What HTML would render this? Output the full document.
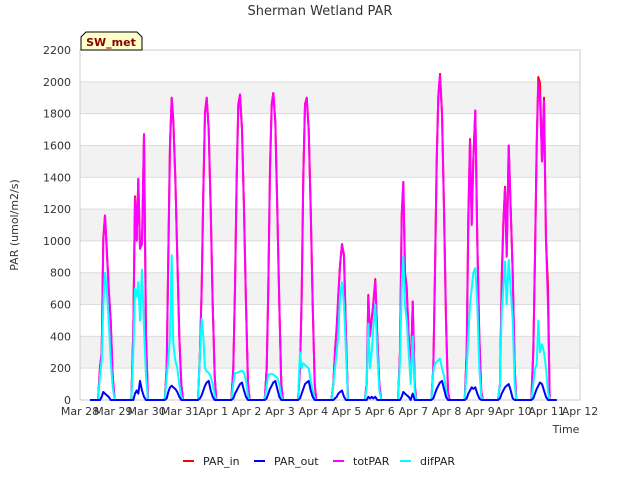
<!DOCTYPE html>
<html><head><meta charset="utf-8"><style>
body{margin:0;background:#fff;}
svg text{font-family:"DejaVu Sans","Liberation Sans",sans-serif;}
</style></head><body>
<svg id="chart" width="640" height="480" xmlns="http://www.w3.org/2000/svg">
<rect width="640" height="480" fill="#fff"/>
<text x="320" y="15" text-anchor="middle" font-size="13" fill="#333">Sherman Wetland PAR</text>
<g id="bands"></g>
<g id="grid"></g>
<rect x="80" y="50" width="500" height="350" fill="none" stroke="#ccc"/>
<g id="yticks"></g>
<g id="xticks"></g>
<text transform="translate(18,225) rotate(-90)" text-anchor="middle" font-size="11" fill="#333">PAR (umol/m2/s)</text>
<text x="566" y="433" text-anchor="middle" font-size="11" fill="#333">Time</text>
<g id="series"></g>
<g>
<path d="M81,50 L81,37 L86,32 L137,32 L142,37 L142,50 Z" fill="#ffffcc" stroke="#000" stroke-width="1"/>
<text x="111" y="46" text-anchor="middle" font-size="11" font-weight="bold" fill="#8b0000">SW_met</text>
</g>
<g id="legend"></g>
</svg>
<script>
const NS="http://www.w3.org/2000/svg";
const yTicks=[0,200,400,600,800,1000,1200,1400,1600,1800,2000,2200];
const xTickLabels=["Mar 28","Mar 29","Mar 30","Mar 31","Apr 1","Apr 2","Apr 3","Apr 4","Apr 5","Apr 6","Apr 7","Apr 8","Apr 9","Apr 10","Apr 11","Apr 12"];
const offsets=[-0.46,-0.40,-0.35,-0.30,-0.25,-0.20,-0.14,-0.08,-0.02,0.04,0.09,0.13];
const dayIndex=[1,2,3,4,5,6,7,8,9,10,11,12,13,14];
const totPAR=[
[0,200,300,1000,1160,950,700,500,150,0,0,0],
[0,430,1270,1000,1390,950,980,1670,400,0,0,0],
[0,200,900,1600,1900,1750,1400,900,400,100,0,0],
[0,300,700,1300,1800,1900,1700,1200,600,150,0,0],
[0,200,700,1400,1850,1920,1700,1200,600,100,0,0],
[0,200,700,1450,1850,1930,1750,1200,600,100,0,0],
[0,200,650,1400,1850,1900,1700,1200,600,100,0,0],
[0,100,300,450,650,840,980,900,400,0,0,0],
[0,100,650,400,500,600,750,400,100,0,0,0],
[0,300,1160,1370,800,700,400,150,620,100,0,0],
[0,200,800,1500,1900,2040,1800,1200,500,50,0,0],
[0,300,1130,1630,1100,1500,1820,1000,400,50,0,0],
[0,100,700,1100,1330,900,1600,1200,800,200,0,0],
[0,300,900,1600,2000,1900,1500,1880,1000,600,0,0]];
const parIn=[
[0,210,300,1020,1160,960,700,500,150,0,0,0],
[0,440,1280,1010,1390,960,980,1670,400,0,0,0],
[0,210,910,1620,1900,1760,1400,900,400,100,0,0],
[0,310,710,1310,1810,1900,1700,1200,600,150,0,0],
[0,200,710,1410,1860,1920,1700,1200,600,100,0,0],
[0,200,710,1460,1860,1930,1750,1200,600,100,0,0],
[0,200,660,1410,1860,1900,1700,1200,600,100,0,0],
[0,100,310,460,660,850,980,910,400,0,0,0],
[0,100,660,410,510,610,760,400,100,0,0,0],
[0,310,1160,1370,800,710,400,150,620,100,0,0],
[0,200,810,1510,1910,2050,1800,1200,500,50,0,0],
[0,310,1140,1640,1110,1510,1820,1000,400,50,0,0],
[0,100,780,1110,1340,910,1600,1200,800,200,0,0],
[0,310,910,1610,2030,1990,1500,1900,1000,720,0,0]];
const difPAR=[
[0,150,250,600,800,700,500,250,80,0,0,0],
[0,300,700,650,740,500,820,450,150,0,0,0],
[0,150,250,400,910,350,250,200,100,20,0,0],
[0,300,510,400,200,180,170,150,100,30,0,0],
[0,100,170,170,175,180,185,170,120,20,0,0],
[0,90,160,160,165,160,150,140,100,20,0,0],
[0,300,200,230,220,210,200,120,60,10,0,0],
[0,100,200,300,400,650,740,600,300,0,0,0],
[0,80,480,200,300,450,600,300,60,0,0,0],
[0,250,700,900,600,500,300,100,400,50,0,0],
[0,180,230,240,250,260,200,150,60,0,0,0],
[0,200,400,600,700,800,830,600,200,20,0,0],
[0,100,550,700,870,600,880,700,500,100,0,0],
[0,100,200,220,500,300,350,300,200,50,0,0]];
const parOut=[
[0,0,20,50,40,30,20,0,0,0,0,0],
[0,0,40,60,40,120,60,20,0,0,0,0],
[0,10,50,80,90,80,70,50,20,0,0,0],
[0,10,30,60,90,110,120,60,20,0,0,0],
[0,10,40,60,80,100,110,60,20,0,0,0],
[0,10,40,70,90,110,120,70,20,0,0,0],
[0,10,40,70,100,110,120,60,20,0,0,0],
[0,0,10,20,40,50,60,20,0,0,0,0],
[0,0,20,10,20,10,20,0,0,0,0,0],
[0,0,20,50,40,30,20,0,40,0,0,0],
[0,10,40,70,90,110,120,70,20,0,0,0],
[0,10,40,60,80,70,80,40,10,0,0,0],
[0,10,40,60,80,90,100,60,10,0,0,0],
[0,10,40,70,90,110,100,60,20,0,0,0]];
const startDay=0.3, endDay=14.3;

const X=d=>80+d*(500/15);
const Y=v=>400-v*(350/2200);
function el(tag,attrs,parent){const e=document.createElementNS(NS,tag);for(const k in attrs)e.setAttribute(k,attrs[k]);parent.appendChild(e);return e;}
const bands=document.getElementById('bands'),grid=document.getElementById('grid'),yt=document.getElementById('yticks'),xt=document.getElementById('xticks');
for(let i=0;i<yTicks.length;i++){
  const v=yTicks[i];
  if(i%2===1&&i<yTicks.length-1){const b=el('rect',{x:80,y:Y(yTicks[i+1]),width:500,height:Y(v)-Y(yTicks[i+1]),fill:'#f2f2f2'},bands);
  
  }
  const g=el('line',{x1:80,x2:580,y1:Y(v),y2:Y(v),stroke:'#dcdcdc'},grid);
  
  
  const t=el('text',{x:71,y:Y(v)+4,'text-anchor':'end','font-size':11,fill:'#333'},yt);t.textContent=v;
  
  
}
for(let i=0;i<xTickLabels.length;i++){
  const t=el('text',{x:X(i),y:415,'text-anchor':'middle','font-size':11,fill:'#333'},xt);t.textContent=xTickLabels[i];
  
  
}
function pts(arr){
  const p=[[X(startDay),Y(0)]];
  for(let d=0;d<dayIndex.length;d++)for(let k=0;k<offsets.length;k++)p.push([X(dayIndex[d]+offsets[k]),Y(arr[d][k])]);
  p.push([X(endDay),Y(0)]);
  return p.map(q=>q[0].toFixed(1)+','+q[1].toFixed(1)).join(' ');
}
const ser=document.getElementById('series');
const defs=[['PAR_in',parIn,'#ff0000','par-in-line'],['totPAR',totPAR,'#ff00ff','totpar-line'],['difPAR',difPAR,'#00ffff','difpar-line'],['PAR_out',parOut,'#0000ff','par-out-line']];
for(const s of defs){
  const l=el('polyline',{points:pts(s[1]),fill:'none',stroke:s[2],'stroke-width':2,'stroke-linejoin':'round'},ser);
  
  
}
const leg=document.getElementById('legend');
const legItems=[['PAR_in','#ff0000',183],['PAR_out','#0000ff',254],['totPAR','#ff00ff',333],['difPAR','#00ffff',400]];
for(const it of legItems){
  const g=el('g',{},leg);
  
  
  el('line',{x1:it[2],x2:it[2]+11,y1:461,y2:461,stroke:it[1],'stroke-width':2},g);
  const t=el('text',{x:it[2]+20,y:465,'font-size':11,fill:'#222'},g);t.textContent=it[0];
}
</script>
</body></html>
